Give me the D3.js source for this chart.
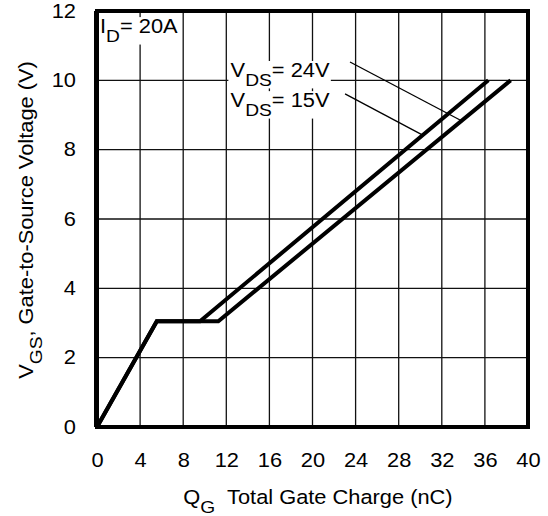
<!DOCTYPE html>
<html>
<head>
<meta charset="utf-8">
<script src="https://cdn.jsdelivr.net/npm/d3@7"></script>
<style>
body { margin: 0; background: #fff; }
text { font-family: "Liberation Sans", Arial, Helvetica, sans-serif; fill: #000; }
</style>
</head>
<body>
<div id="chart"></div>
<script>
// tick values
var qTicks = [0, 4, 8, 12, 16, 20, 24, 28, 32, 36, 40];
var vTicks = [0, 2, 4, 6, 8, 10, 12];

// gate charge curves (nC, V)
var q24 = [0, 5.55, 11.26, 38.39];
var v24 = [0, 3.05, 3.05, 10];
var q15 = [0, 5.55, 9.56, 36.32];
var v15 = [0, 3.05, 3.05, 10];

// leader lines: from label to curve (nC, V)
var lead24 = [[23.48, 10.53], [33.78, 8.84]];
var lead15 = [[23.02, 9.61], [30.23, 8.42]];

var width = 548, height = 516;
var plotL = 97, plotR = 528, plotT = 11, plotB = 427;
var fs = 19.5, sx = 1.12;   // the original type is set a bit wide

var x = d3.scaleLinear().domain([0, 40]).range([plotL, plotR]);
var y = d3.scaleLinear().domain([0, 12]).range([plotB, plotT]);

var svg = d3.select("#chart")
    .append("svg")
    .attr("width", width)
    .attr("height", height);

// grid
svg.append("g")
    .selectAll("line")
    .data(qTicks.slice(1, -1))
    .enter()
    .append("line")
    .attr("x1", d => x(d)).attr("x2", d => x(d))
    .attr("y1", plotT).attr("y2", plotB)
    .attr("stroke", "#111")
    .attr("stroke-width", 1.3);

svg.append("g")
    .selectAll("line")
    .data(vTicks.slice(1, -1))
    .enter()
    .append("line")
    .attr("x1", plotL).attr("x2", plotR)
    .attr("y1", d => y(d)).attr("y2", d => y(d))
    .attr("stroke", "#111")
    .attr("stroke-width", 1.3);

// axes (labels only)
var xAxis = svg.append("g")
    .attr("transform", `translate(0, ${plotB})`)
    .attr("font-family", null)
    .call(d3.axisBottom(x).tickValues(qTicks).tickSize(0).tickPadding(26));
xAxis.select(".domain").remove();
xAxis.attr("font-family", null);
xAxis.selectAll("text")
    .attr("font-size", fs)
    .attr("transform", `scale(${sx},1)`);

var yAxis = svg.append("g")
    .attr("transform", `translate(${plotL}, 0)`)
    .call(d3.axisLeft(y).tickValues(vTicks).tickSize(0).tickPadding(21));
yAxis.select(".domain").remove();
yAxis.attr("font-family", null);
yAxis.selectAll("text")
    .attr("font-size", fs)
    .attr("x", -21 / sx)
    .attr("transform", `scale(${sx},1)`);

// helper for text with subscript
function subText(g, parts, size) {
    var t = g.append("text").attr("font-size", size);
    parts.forEach(function(p) {
        var s = t.append("tspan").text(p[0]);
        if (p[1] == "sub") s.attr("font-size", size * 0.88).attr("dy", size * 0.45);
        if (p[1] == "up") s.attr("dy", -size * 0.45);
    });
    return t;
}

// labels with white background
function label(px, py, parts, size) {
    var g = svg.append("g").attr("transform", `translate(${px}, ${py}) scale(${sx},1)`);
    var bg = g.append("rect").attr("fill", "#fff");
    var t = subText(g, parts, size);
    var b = t.node().getBBox();
    bg.attr("x", b.x - 2).attr("y", b.y + 2).attr("width", b.width + 3).attr("height", b.height - 3);
    return g;
}

// leader lines
[lead24, lead15].forEach(function(l) {
    svg.append("line")
        .attr("x1", x(l[0][0])).attr("y1", y(l[0][1]))
        .attr("x2", x(l[1][0])).attr("y2", y(l[1][1]))
        .attr("stroke", "#000")
        .attr("stroke-width", 1.3);
});

label(x(12.4), y(10.1), [["V"], ["DS", "sub"], ["= 24V", "up"]], fs);
label(x(12.4), y(9.23), [["V"], ["DS", "sub"], ["= 15V", "up"]], fs);
label(x(0.28), 33, [["I"], ["D", "sub"], ["= 20A", "up"]], fs);

// curves
var line = d3.line().x(d => x(d[0])).y(d => y(d[1]));
[[q24, v24], [q15, v15]].forEach(function(c) {
    svg.append("path")
        .datum(c[0].map((q, i) => [q, c[1][i]]))
        .attr("d", line)
        .attr("fill", "none")
        .attr("stroke", "#000")
        .attr("stroke-width", 4);
});

// frame
svg.append("rect")
    .attr("x", plotL).attr("y", plotT)
    .attr("width", plotR - plotL).attr("height", plotB - plotT)
    .attr("fill", "none")
    .attr("stroke", "#000")
    .attr("stroke-width", 4);
svg.append("line")
    .attr("x1", plotL - 0.5).attr("x2", plotL - 0.5)
    .attr("y1", plotT).attr("y2", plotB)
    .attr("stroke", "#000")
    .attr("stroke-width", 5);

// axis titles
subText(svg.append("g").attr("transform", `translate(318, 504) scale(${sx},1)`),
    [["Q"], ["G", "sub"], ["\u00a0 Total Gate Charge (nC)", "up"]], fs)
    .attr("text-anchor", "middle");

subText(svg.append("g").attr("transform", `translate(33, 220) rotate(-90) scale(${sx},1)`),
    [["V"], ["GS", "sub"], [", Gate-to-Source Voltage (V)", "up"]], fs)
    .attr("text-anchor", "middle");
</script>
</body>
</html>
